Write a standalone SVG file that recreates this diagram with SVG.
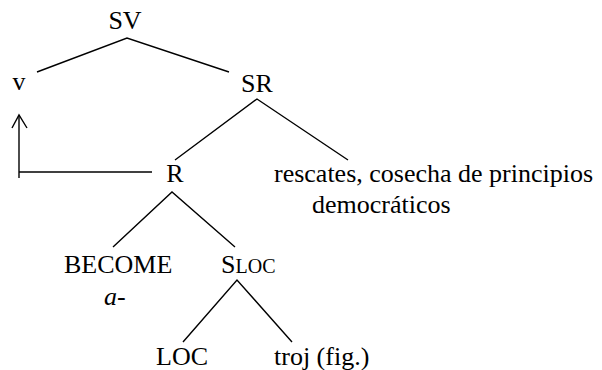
<svg xmlns="http://www.w3.org/2000/svg" width="602" height="370" viewBox="0 0 602 370">
<style>
text{font-family:"Liberation Serif","Times New Roman",serif;font-size:26px;fill:#000}
.e{stroke:#000;stroke-width:1.4;fill:none}
.m{text-anchor:middle}
</style>
<rect width="602" height="370" fill="#fff"/>
<g id="connectors">
<polyline class="e" points="37,72 127,38 229,72"/>
<polyline class="e" points="175,160 257,99 348,160"/>
<polyline class="e" points="113,247 172,192 235,247"/>
<polyline class="e" points="183,342 237,280 292,342"/>
<polyline class="e" stroke-width="1.8" points="152,172 19,172"/>
<line class="e" x1="19" y1="178" x2="19" y2="116" stroke-width="1.8"/>
<polyline class="e" points="12,128 19,115 27,128"/>
</g>
<g id="SV"><text class="m" x="125" y="29">SV</text></g>
<g id="v"><text class="m" x="19" y="90">v</text></g>
<g id="SR"><text class="m" x="257" y="92">SR</text></g>
<g id="R"><text class="m" x="175" y="182">R</text></g>
<g id="rescates"><text x="274" y="182">rescates, cosecha de principios</text><text x="312" y="213">democráticos</text></g>
<g id="BECOME"><text x="64" y="273">BECOME</text><text x="104" y="305" font-style="italic">a-</text></g>
<g id="SLOC"><text x="221" y="273">S<tspan font-size="20">LOC</tspan></text></g>
<g id="LOC"><text x="156" y="365">LOC</text></g>
<g id="troj"><text x="274" y="365">troj (fig.)</text></g>
</svg>
